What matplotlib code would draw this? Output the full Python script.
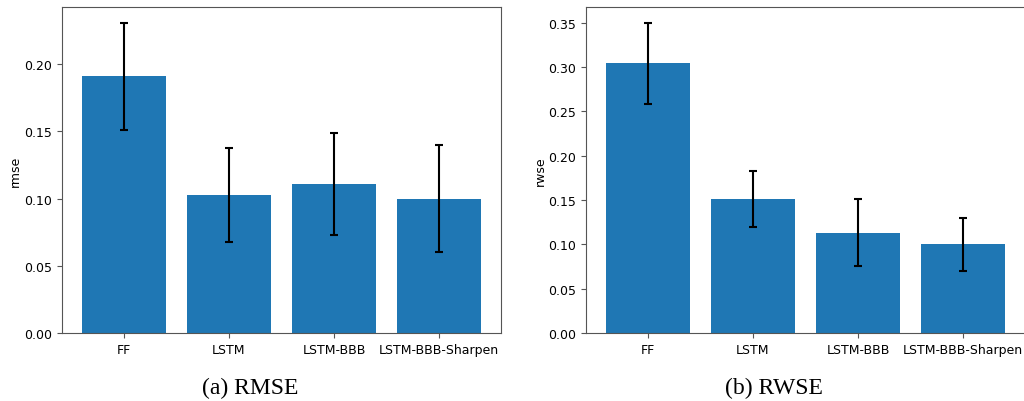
import matplotlib
matplotlib.use("Agg")
import matplotlib.pyplot as plt
import numpy as np

categories = ["FF", "LSTM", "LSTM-BBB", "LSTM-BBB-Sharpen"]
rmse_mean = [0.191, 0.103, 0.111, 0.100]
rmse_err = [0.040, 0.035, 0.038, 0.040]
rwse_mean = [0.304, 0.151, 0.113, 0.100]
rwse_err = [0.046, 0.032, 0.038, 0.030]

fig = plt.figure(figsize=(10.24, 4.02), dpi=100)
W, H = 1024, 402
ax1 = fig.add_axes([62 / W, 1 - 334 / H, 439 / W, 326 / H])
ax2 = fig.add_axes([586 / W, 1 - 334 / H, 439 / W, 326 / H])

x = np.arange(len(categories))
for ax, m, e, lab, cap in [(ax1, rmse_mean, rmse_err, "rmse", "(a) RMSE"),
                           (ax2, rwse_mean, rwse_err, "rwse", "(b) RWSE")]:
    ax.bar(x, m, width=0.8, color="#1f77b4", yerr=e, capsize=3,
           error_kw=dict(ecolor="black", elinewidth=1.5, capthick=1.5))
    ax.set_xticks(x)
    ax.set_xticklabels(categories, fontsize=9)
    ax.tick_params(axis="y", labelsize=9)
    ax.set_ylabel(lab, fontsize=9)
    for s in ax.spines.values():
        s.set_color("#555555")
    ax.tick_params(color="#555555")
    ax.text(0.428, -0.168, cap, transform=ax.transAxes, ha="center", va="center",
            fontsize=17, family="Liberation Serif")

ax1.yaxis.set_label_coords(-0.092, 0.5)
ax2.yaxis.set_label_coords(-0.09, 0.5)

fig.savefig("out.png", dpi=100)
